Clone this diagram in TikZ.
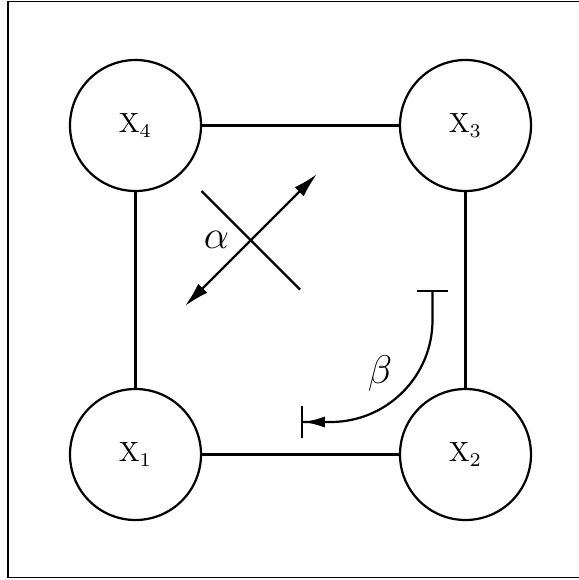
\documentclass[tikz,border=0pt]{standalone}
\usetikzlibrary{arrows.meta}
\begin{document}
\begin{tikzpicture}[x=0.36pt,y=-0.36pt,line width=0.8pt,
  state/.style={circle,draw,minimum size=47.16pt,inner sep=0pt,outer sep=0pt,font=\normalsize},
  ln/.style={line width=0.8pt},
  lbl/.style={font=\Large,inner sep=0pt}]
\useasboundingbox (0,0) rectangle (579,580);
\draw[line width=0.4pt] (8,1.5) rectangle (585,577.5);
\node[state] (x4) at (135.5,125.5) {$\mathrm{X}_4$};
\node[state] (x3) at (465.5,125.5) {$\mathrm{X}_3$};
\node[state] (x1) at (135.5,454.5) {$\mathrm{X}_1$};
\node[state] (x2) at (465.5,454.5) {$\mathrm{X}_2$};
\draw[ln] (x4) -- (x3);
\draw[ln] (x4) -- (x1);
\draw[ln] (x1) -- (x2);
\draw[ln] (x3) -- (x2);
% cross
\coordinate (pa) at (201.5,191);
\coordinate (pb) at (300,289.5);
\coordinate (qa) at (185,306);
\coordinate (qb) at (317,174);
\draw[ln] (pa) -- (pb);
\draw[ln,{Latex[length=9pt,width=4.6pt]}-{Latex[length=9pt,width=4.6pt]}] (qa) -- (qb);
\node[lbl] (alpha) at (216.5,240) {$\alpha$};
% beta arc
\coordinate (bs) at (432.5,290);
\coordinate (be) at (301,422);
\draw[ln,rounded corners=36.7pt,{Bar[width=11.5pt]}-{Latex[length=7.8pt,width=4pt]Bar[width=11.5pt]}] (bs) |- (be);
\node[lbl] (beta) at (380,373) {$\beta$};
\end{tikzpicture}
\end{document}
